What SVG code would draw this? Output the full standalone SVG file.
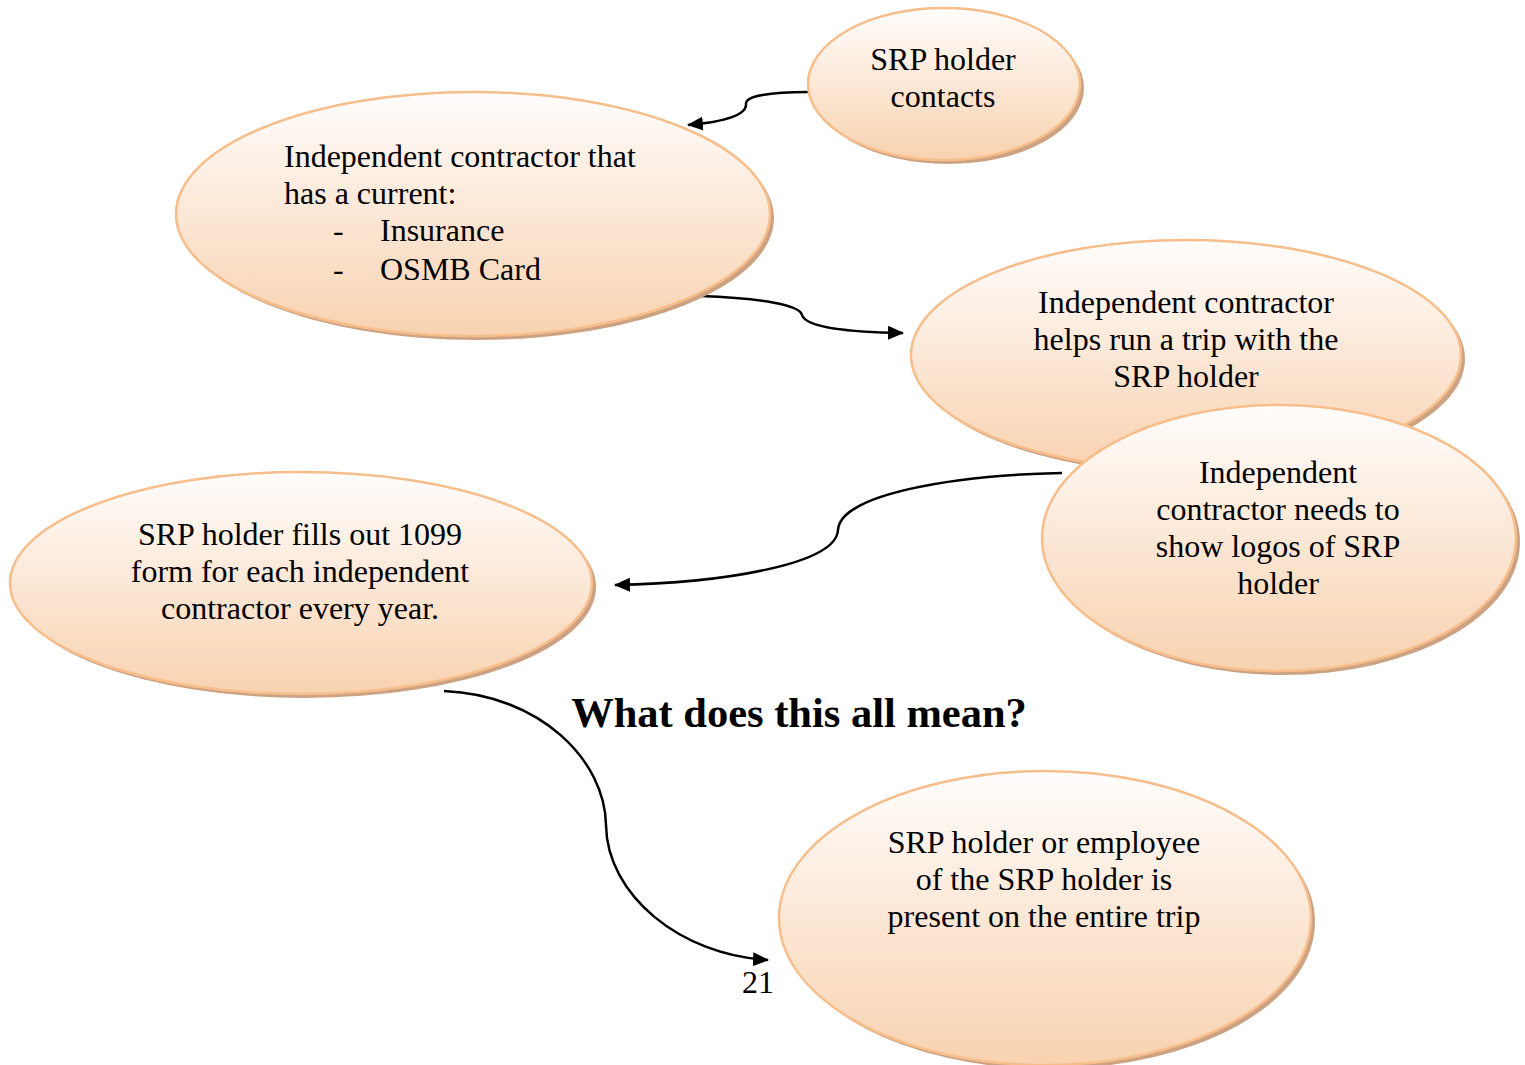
<svg xmlns="http://www.w3.org/2000/svg" width="1525" height="1065" viewBox="0 0 1525 1065">
<style>
.sh{fill:#cda282}
.el{fill:url(#g);stroke:#f7be8c;stroke-width:2.5}
.t{font-family:"Liberation Serif",serif;font-size:32px;fill:#000}
.c{text-anchor:middle}
.cn{fill:none;stroke:#000;stroke-width:2.5}
</style>
<defs>
<linearGradient id="g" x1="0" y1="0" x2="0" y2="1">
<stop offset="0" stop-color="#fffdfc"/>
<stop offset="1" stop-color="#f8d2b0"/>
</linearGradient>
<marker id="a" markerWidth="16" markerHeight="14" refX="15" refY="7" orient="auto" markerUnits="userSpaceOnUse" viewBox="0 0 16 14">
<path d="M0,0 L16,7 L0,14 z" fill="#000"/>
</marker>
</defs>
<rect width="1525" height="1065" fill="#fff"/>
<g id="connectors">
<path class="cn" marker-end="url(#a)" d="M808,92 C770,92 745,96 746,104 C747,116 720,122 688,125"/>
<path class="cn" marker-end="url(#a)" d="M700,296 C760,298 800,305 802,315 C806,328 850,332 903,333"/>
<path class="cn" marker-end="url(#a)" d="M1062,473 C950,475 840,495 838,530 C836,565 720,583 615,585"/>
<path class="cn" marker-end="url(#a)" d="M444,691 C540,695 605,760 606,825 C607,895 680,955 768,960"/>
</g>
<g id="n1">
<ellipse class="sh" cx="948" cy="88" rx="136" ry="76"/>
<ellipse class="el" cx="944" cy="84" rx="136" ry="76"/>
<text class="t c" x="943" y="70">SRP holder</text>
<text class="t c" x="943" y="107">contacts</text>
</g>
<g id="n2">
<ellipse class="sh" cx="477" cy="218" rx="297" ry="122"/>
<ellipse class="el" cx="473" cy="214" rx="297" ry="122"/>
<text class="t" x="284" y="167">Independent contractor that</text>
<text class="t" x="284" y="204">has a current:</text>
<text class="t" x="333" y="241">-</text>
<text class="t" x="380" y="241">Insurance</text>
<text class="t" x="333" y="280">-</text>
<text class="t" x="380" y="280">OSMB Card</text>
</g>
<g id="n3">
<ellipse class="sh" cx="1190" cy="359" rx="275" ry="115"/>
<ellipse class="el" cx="1186" cy="355" rx="275" ry="115"/>
<text class="t c" x="1186" y="313">Independent contractor</text>
<text class="t c" x="1186" y="350">helps run a trip with the</text>
<text class="t c" x="1186" y="387">SRP holder</text>
</g>
<g id="n4">
<ellipse class="sh" cx="1283" cy="542" rx="237" ry="133"/>
<ellipse class="el" cx="1279" cy="538" rx="237" ry="133"/>
<text class="t c" x="1278" y="483">Independent</text>
<text class="t c" x="1278" y="520">contractor needs to</text>
<text class="t c" x="1278" y="557">show logos of SRP</text>
<text class="t c" x="1278" y="594">holder</text>
</g>
<g id="n5">
<ellipse class="sh" cx="305" cy="587" rx="291" ry="111"/>
<ellipse class="el" cx="301" cy="583" rx="291" ry="111"/>
<text class="t c" x="300" y="545">SRP holder fills out 1099</text>
<text class="t c" x="300" y="582">form for each independent</text>
<text class="t c" x="300" y="619">contractor every year.</text>
</g>
<g id="n6">
<ellipse class="sh" cx="1049" cy="922" rx="266" ry="147"/>
<ellipse class="el" cx="1045" cy="918" rx="266" ry="147"/>
<text class="t c" x="1044" y="853">SRP holder or employee</text>
<text class="t c" x="1044" y="890">of the SRP holder is</text>
<text class="t c" x="1044" y="927">present on the entire trip</text>
</g>
<text x="799" y="727" font-family="Liberation Serif,serif" font-size="42.5" font-weight="bold" text-anchor="middle">What does this all mean?</text>
<text class="t c" x="758" y="993">21</text>
</svg>
